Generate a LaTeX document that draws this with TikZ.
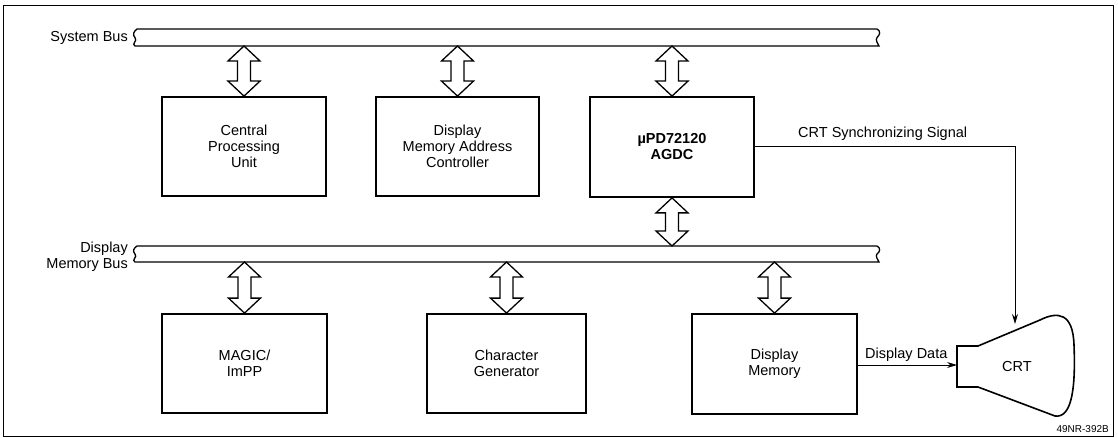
\documentclass[tikz,border=0pt]{standalone}
\usepackage{fontspec}
\setmainfont{Liberation Sans}
\usetikzlibrary{calc,arrows.meta}
\begin{document}
\begin{tikzpicture}[x=1pt,y=-1pt,
  box/.style={draw,line width=1.8pt,align=center,inner sep=0pt,font=\fontsize{14.5}{16}\selectfont},
  lbl/.style={font=\fontsize{14.5}{15.5}\selectfont,inner sep=0pt},
  bus/.style={line width=1.3pt},
  sig/.style={line width=1pt,-{Stealth[length=10pt,width=6pt]}},
  fat/.style={line width=1.3pt,draw,to path={let \p1=(\tikztostart),\p2=(\tikztotarget) in
     (\x1,\y1) -- (\x1+16pt,\y1-15pt) -- (\x1+6.5pt,\y1-15pt) -- (\x1+6.5pt,\y2+15pt) -- (\x1+16pt,\y2+15pt)
     -- (\x1,\y2) -- (\x1-16pt,\y2+15pt) -- (\x1-6.5pt,\y2+15pt) -- (\x1-6.5pt,\y1-15pt) -- (\x1-16pt,\y1-15pt) -- cycle}},
]
\useasboundingbox (0,0) rectangle (1118,438);
% frame
\draw[line width=0.9pt] (3,5) rectangle (1113,436);

% buses
\draw[bus] (137,29) -- (877,29) .. controls (881,31) and (880,35) .. (877,37.5) .. controls (875,40) and (878,44) .. (879,46) -- (135,46) .. controls (131,44) and (138,41) .. (135,37.5) .. controls (132,35) and (134,31) .. (137,29) -- cycle;
\draw[bus] (137,246) -- (877,246) .. controls (881,248) and (880,252) .. (877,254) .. controls (875,256) and (878,260) .. (879,262) -- (135,262) .. controls (131,260) and (138,257) .. (135,254) .. controls (132,251) and (134,248) .. (137,246) -- cycle;
\coordinate (sbb) at (0,46);
\coordinate (dbt) at (0,246);
\coordinate (dbb) at (0,262);

\node[lbl,anchor=east] (sblbl) at (128,37.5) {System Bus};
\node[lbl,anchor=east,align=right] (dblbl) at (128,257) {Display\\Memory Bus};

% boxes
\node[box,minimum width=164pt,minimum height=99pt] (cpu) at (244,146.5) {Central\\Processing\\Unit};
\node[box,minimum width=163pt,minimum height=99pt] (dmac) at (457.5,146.5) {Display\\Memory Address\\Controller};
\node[box,minimum width=164pt,minimum height=100pt,font=\fontsize{14.5}{16}\selectfont\bfseries] (agdc) at (672,147) {µPD72120\\AGDC};
\node[box,minimum width=165pt,minimum height=99pt] (magic) at (244.5,363.5) {MAGIC/\\ImPP};
\node[box,minimum width=159pt,minimum height=99pt] (chargen) at (506.5,363.5) {Character\\Generator};
\node[box,minimum width=165pt,minimum height=100pt] (dmem) at (774.5,364) {Display\\Memory};

% fat double arrows
\draw[fat] (cpu.north |- sbb) to (cpu.north);
\draw[fat] (dmac.north |- sbb) to (dmac.north);
\draw[fat] (agdc.north |- sbb) to (agdc.north);
\draw[fat] (agdc.south) to (agdc.south |- dbt);
\draw[fat] (magic.north |- dbb) to (magic.north);
\draw[fat] (chargen.north |- dbb) to (chargen.north);
\draw[fat] (dmem.north |- dbb) to (dmem.north);

% CRT
\draw[line width=1.6pt] (957,346) -- (978,346) -- (1040,320) .. controls (1058,311) and (1073,313) .. (1074,345)
  .. controls (1076,395) and (1070,418) .. (1055,416) -- (978,387) -- (957,387) -- cycle;
\node[lbl] (crt) at (1017,367) {CRT};
\coordinate (synctip) at (1015,324);
\coordinate (crtin) at (957,365);

\draw[sig] (agdc.east) -| (synctip);
\node[lbl,anchor=base west] (synclbl) at (798,138) {CRT Synchronizing Signal};
\draw[sig] (dmem.east |- crtin) -- (crtin);
\node[lbl,anchor=base west] (ddlbl) at (865,358) {Display Data};

\node[font=\fontsize{10}{12}\selectfont,anchor=east,inner sep=0pt] (code) at (1109,429) {49NR-392B};
\end{tikzpicture}
\end{document}
